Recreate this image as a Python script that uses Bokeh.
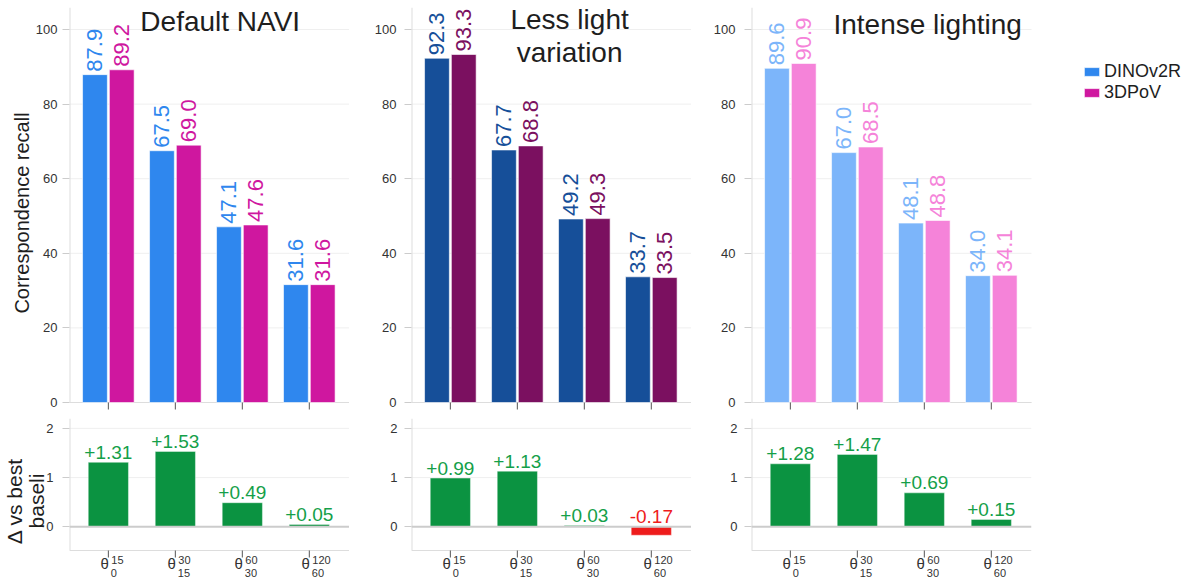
import numpy as np
from bokeh.plotting import figure
from bokeh.models import Range1d, FixedTicker, Legend, LegendItem, Span, ColumnDataSource
from bokeh.layouts import row, column
from bokeh.embed import file_html
from bokeh.resources import INLINE
from bokeh.core.properties import value

FONT = "Liberation Sans"

# ---------------- data ----------------
panel_titles = [["Default NAVI"], ["Less light", "variation"], ["Intense lighting"]]
bin_upper = ["15", "30", "60", "120"]
bin_lower = ["0", "15", "30", "60"]
series_names = ["DINOv2R", "3DPoV"]

dino_default = [87.9, 67.5, 47.1, 31.6]
pov_default = [89.2, 69.0, 47.6, 31.6]
dino_less = [92.3, 67.7, 49.2, 33.7]
pov_less = [93.3, 68.8, 49.3, 33.5]
dino_intense = [89.6, 67.0, 48.1, 34.0]
pov_intense = [90.9, 68.5, 48.8, 34.1]

delta_default = [1.31, 1.53, 0.49, 0.05]
delta_less = [0.99, 1.13, 0.03, -0.17]
delta_intense = [1.28, 1.47, 0.69, 0.15]

y_ticks_top = [0, 20, 40, 60, 80, 100]
y_ticks_bot = [0, 1, 2]
y_label_top = "Correspondence recall"
y_label_bot = "Δ vs best\nbaseli"

# ---------------- styles ----------------
dino_colors = ["#2f87ee", "#164f99", "#7cb5fa"]
pov_colors = ["#cf179f", "#7b1060", "#f583d9"]
GREEN = "#0b9341"
GREEN_TXT = "#14a049"
RED = "#ee1c1c"
TXT = "#1e1e1e"
TICK_TXT = "#333333"
AXIS_LINE = "#dddddd"
TICK_LINE = "#555555"
GRID = "#efefef"

panels = [
    (dino_default, pov_default, delta_default),
    (dino_less, pov_less, delta_less),
    (dino_intense, pov_intense, delta_intense),
]
left_border = [69, 62, 60]
right_border = [0, 0, 169]
label_standoff = [5, 8, 9]
title_x = [1.67, 1.78, 2.05]
title_mid_px = [[21], [19, 52], [24]]   # vertical centre of title lines (px from page top)

X0, X1 = -0.58, 3.6
FW = 280
XSCALE = FW / (X1 - X0)
# top panel: 0 -> page y 402, 105.9 -> page y 7 ; frame extends to page y 418
TOP_Y1 = 105.9
TOP_SCALE = 395 / TOP_Y1
TOP_FH = 411
TOP_Y0 = TOP_Y1 - TOP_FH / TOP_SCALE
# bottom panel: 2.2 -> page y 418, -0.48 -> page y 550 ; frame extends to 583
BOT_Y1 = 2.2
BOT_AX = -0.48
BOT_SCALE = 132 / (BOT_Y1 - BOT_AX)
BOT_FH = 165
BOT_Y0 = BOT_Y1 - BOT_FH / BOT_SCALE


def top_y(py):
    return TOP_Y1 - (py - 7) / TOP_SCALE


def bot_y(py):
    return BOT_Y1 - (py - 418) / BOT_SCALE


xs = np.arange(len(bin_upper), dtype=float)


def style_axes(p, standoff):
    p.outline_line_color = None
    p.xgrid.grid_line_color = None
    p.ygrid.grid_line_color = None
    p.yaxis.axis_line_color = None
    p.yaxis.major_tick_line_color = "#cccccc"
    p.yaxis.major_tick_out = 7
    p.yaxis.major_tick_in = 0
    p.yaxis.minor_tick_line_color = None
    p.yaxis.major_label_text_font = FONT
    p.yaxis.major_label_text_font_size = "13px"
    p.yaxis.major_label_text_color = TICK_TXT
    p.yaxis.major_label_standoff = standoff


def hgrid(p, ticks):
    n = len(ticks)
    p.segment(x0=np.full(n, X0), y0=ticks, x1=np.full(n, X1), y1=ticks,
              line_color=GRID, line_width=1)


tops = []
bots = []
for i, (dino, pov, delta) in enumerate(panels):
    W = left_border[i] + FW + right_border[i]
    # the last top panel's frame extends to the right edge to hold the legend
    x_end = X1 + right_border[i] / XSCALE if i == 2 else X1
    t = figure(width=W, height=7 + TOP_FH, x_range=Range1d(X0, x_end),
               y_range=Range1d(TOP_Y0, TOP_Y1), output_backend="svg",
               toolbar_location=None, x_axis_location=None,
               min_border_left=left_border[i], min_border_right=0,
               min_border_top=7, min_border_bottom=0)
    style_axes(t, label_standoff[i])
    t.yaxis.ticker = FixedTicker(ticks=y_ticks_top)
    if i == 0:
        t.yaxis.axis_label = y_label_top
        t.yaxis.axis_label_text_font = FONT
        t.yaxis.axis_label_text_font_size = "20px"
        t.yaxis.axis_label_text_font_style = "normal"
        t.yaxis.axis_label_text_color = TXT
        t.yaxis.axis_label_standoff = 0

    hgrid(t, y_ticks_top)
    # axis lines + ticks
    t.segment(x0=[X0], y0=[0], x1=[X0], y1=[TOP_Y1], line_color=AXIS_LINE, line_width=2)
    t.segment(x0=[X0], y0=[0], x1=[X1], y1=[0], line_color=AXIS_LINE, line_width=1)
    t.segment(x0=xs, y0=np.zeros(len(xs)), x1=xs, y1=np.full(len(xs), -7 / TOP_SCALE),
              line_color=TICK_LINE, line_width=1)

    src_d = ColumnDataSource(dict(x=xs - 0.2, top=dino, lab=[f"{v:.1f}" for v in dino]))
    src_p = ColumnDataSource(dict(x=xs + 0.2, top=pov, lab=[f"{v:.1f}" for v in pov]))
    t.vbar(x="x", top="top", bottom=0, width=0.37, source=src_d,
           fill_color=dino_colors[i], line_color="white", line_alpha=0.6, line_width=1)
    t.vbar(x="x", top="top", bottom=0, width=0.37, source=src_p,
           fill_color=pov_colors[i], line_color="white", line_alpha=0.6, line_width=1)
    for src, c in ((src_d, dino_colors[i]), (src_p, pov_colors[i])):
        t.text(x="x", y="top", text="lab", source=src, angle=np.pi / 2,
               text_align="left", text_baseline="middle", y_offset=-3,
               text_font=value(FONT), text_font_size="22px", text_color=c)

    for line, mpx in zip(panel_titles[i], title_mid_px[i]):
        t.text(x=[title_x[i]], y=[top_y(mpx)], text=[line], text_align="center",
               text_baseline="middle", text_font=value(FONT), text_font_size="28px",
               text_color=TXT)

    if i == 2:
        # legend proxies (kept outside the visible range; only their legend swatches show)
        hidden = ColumnDataSource(dict(x=[X0 - 10.0], y=[TOP_Y0 - 50.0]))
        r1 = t.rect(x="x", y="y", width=0.1, height=0.1, source=hidden,
                    fill_color=dino_colors[0], line_color="white", line_alpha=0.6)
        r2 = t.rect(x="x", y="y", width=0.1, height=0.1, source=hidden,
                    fill_color=pov_colors[0], line_color="white", line_alpha=0.6)
        leg = Legend(items=[LegendItem(label=series_names[0], renderers=[r1]),
                            LegendItem(label=series_names[1], renderers=[r2])],
                     location=(331, 315), padding=0, margin=0, spacing=0,
                     glyph_width=19, glyph_height=11, label_height=21,
                     label_standoff=3, label_text_font=FONT,
                     label_text_font_size="18px", label_text_color=TXT,
                     border_line_alpha=0, background_fill_alpha=0)
        t.add_layout(leg)
    tops.append(t)

    # ---- bottom delta panel ----
    b = figure(width=W, height=BOT_FH, x_range=Range1d(X0, X1),
               y_range=Range1d(BOT_Y0, BOT_Y1), output_backend="svg",
               toolbar_location=None, x_axis_location=None,
               min_border_left=left_border[i], min_border_right=right_border[i],
               min_border_top=0, min_border_bottom=0)
    style_axes(b, 9 if i == 0 else 7)
    b.yaxis.ticker = FixedTicker(ticks=y_ticks_bot)
    if i == 0:
        b.yaxis.axis_label = y_label_bot
        b.yaxis.axis_label_text_font = FONT
        b.yaxis.axis_label_text_font_size = "21px"
        b.yaxis.axis_label_text_font_style = "normal"
        b.yaxis.axis_label_text_color = TXT
        b.yaxis.axis_label_text_line_height = 0.95
        b.yaxis.axis_label_standoff = -5

    hgrid(b, [t_ for t_ in y_ticks_bot if t_ != 0])
    b.segment(x0=[X0], y0=[BOT_AX], x1=[X0], y1=[BOT_Y1], line_color=AXIS_LINE, line_width=2)
    b.segment(x0=[X0], y0=[BOT_AX], x1=[X1], y1=[BOT_AX], line_color=AXIS_LINE, line_width=1)
    b.segment(x0=xs, y0=np.full(len(xs), BOT_AX), x1=xs,
              y1=np.full(len(xs), BOT_AX - 7 / BOT_SCALE), line_color=TICK_LINE, line_width=1)
    b.add_layout(Span(location=0, dimension="width", line_color="#cccccc", line_width=2))

    cols = [GREEN if d >= 0 else RED for d in delta]
    tcols = [GREEN_TXT if d >= 0 else RED for d in delta]
    src_b = ColumnDataSource(dict(x=xs, top=delta, col=cols, tcol=tcols,
                                  ly=[max(d, 0) for d in delta],
                                  lab=[f"{d:+.2f}" for d in delta]))
    b.vbar(x="x", top="top", bottom=0, width=0.6, source=src_b, fill_color="col",
           line_color="white", line_alpha=0.4, line_width=1)
    b.text(x="x", y="ly", text="lab", source=src_b, text_align="center",
           text_baseline="middle", y_offset=-10, text_font=value(FONT),
           text_font_size="19px", text_color="tcol")

    # theta tick labels with stacked super/subscripts
    n = len(xs)
    b.text(x=xs, y=np.full(n, bot_y(563)), text=["θ"] * n, text_align="right",
           text_baseline="middle", x_offset=0.5, text_font=value(FONT),
           text_font_size="15px", text_color=TICK_TXT)
    b.text(x=xs, y=np.full(n, bot_y(559.5)), text=bin_upper, text_align="left",
           text_baseline="middle", x_offset=3, text_font=value(FONT),
           text_font_size="11px", text_color=TICK_TXT)
    b.text(x=xs, y=np.full(n, bot_y(572.5)), text=bin_lower, text_align="left",
           text_baseline="middle", x_offset=2.5, text_font=value(FONT),
           text_font_size="11px", text_color=TICK_TXT)
    bots.append(b)

layout = column(row(*tops, spacing=0), row(*bots, spacing=0), spacing=0)
open("out.html", "w").write(file_html(layout, INLINE))
